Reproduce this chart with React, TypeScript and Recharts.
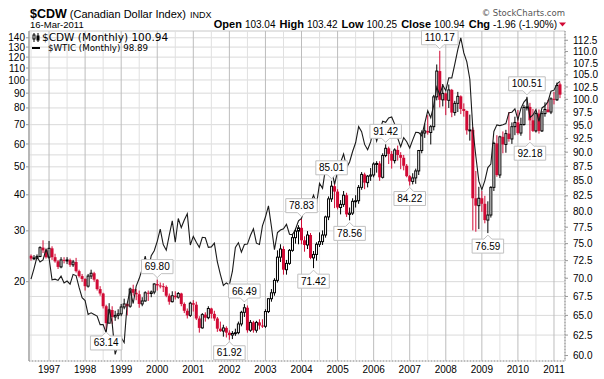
import React from 'react';
import { ComposedChart, XAxis, YAxis, Bar, Line, CartesianGrid, ReferenceDot } from 'recharts';

// ---------- categories ----------
function buildMonths(): string[] {
  const out: string[] = [];
  for (let y = 1996; y <= 2011; y++) {
    for (let m = 1; m <= 12; m++) {
      if (y === 1996 && m < 7) continue;
      if (y === 2011 && m > 3) continue;
      out.push(`${y}-${String(m).padStart(2, '0')}`);
    }
  }
  return out;
}
const months = buildMonths();

const yearTicks = ['1997-01','1998-01','1999-01','2000-01','2001-01','2002-01','2003-01','2004-01','2005-01','2006-01','2007-01','2008-01','2009-01','2010-01','2011-01'];
const halfYearTicks = ['1996-07','1997-07','1998-07','1999-07','2000-07','2001-07','2002-07','2003-07','2004-07','2005-07','2006-07','2007-07','2008-07','2009-07','2010-07'];

const leftTicks = [20, 30, 40, 50, 60, 70, 80, 90, 100, 110, 120, 130, 140];
const leftGridValues = [20, 30, 35, 40, 45, 50, 55, 60, 70, 80, 90, 100, 110, 120, 130, 140];
const rightTicks = [60, 62.5, 65, 67.5, 70, 72.5, 75, 77.5, 80, 82.5, 85, 87.5, 90, 92.5, 95, 97.5, 100, 102.5, 105, 107.5, 110, 112.5];
const rightGridValues = [62.5, 65, 67.5, 72.5, 75, 114.6];

// ---------- $CDW monthly OHLC (Jul 1996 .. Mar 2011) ----------
const cdwOpen = [
  73.2,72.8,72.9,73.1,74.4,74.0,
  73.0,74.3,73.0,72.4,71.6,72.6,72.5,72.6,71.9,72.3,71.0,70.3,
  69.9,68.9,70.3,70.7,69.8,68.5,67.9,66.2,64.0,65.7,64.8,65.0,
  65.2,66.1,66.5,66.2,68.5,68.0,67.8,66.5,66.9,68.0,67.9,68.1,
  69.2,69.0,68.9,68.8,67.6,66.8,67.6,67.4,67.9,66.5,65.6,65.0,
  66.6,66.4,64.6,63.4,65.1,64.7,65.9,65.2,64.6,63.3,63.0,63.4,
  62.8,62.5,62.7,62.8,63.9,65.4,66.0,63.1,64.1,63.1,64.1,63.7,
  63.6,65.5,67.2,68.0,69.7,73.0,74.2,71.2,72.1,74.0,75.9,76.9,
  77.4,75.5,74.8,76.3,72.9,73.4,74.9,75.3,76.3,79.1,82.0,84.1,
  83.2,80.6,81.1,82.6,79.5,79.7,81.6,81.7,83.9,86.1,84.7,85.8,
  86.0,87.9,88.0,85.6,89.4,90.7,89.7,88.5,90.4,89.5,89.0,87.6,
  85.8,84.9,85.5,86.7,90.3,93.5,93.9,93.6,94.7,100.5,105.8,99.9,
  101.2,99.8,101.9,97.4,99.2,100.6,98.1,97.7,94.0,94.1,82.1,80.9,
  82.1,81.2,78.6,79.4,83.9,91.6,86.0,92.8,91.4,93.4,92.4,94.7,
  95.5,93.5,95.1,98.4,98.5,95.9,93.9,97.2,93.9,97.2,98.0,97.5,
  100.1,99.9,103.04,
];
const cdwHigh = [
  73.4,73.3,73.4,74.6,75.5,74.2,
  75.4,74.6,73.5,72.6,73.0,73.0,73.0,72.8,72.6,72.9,71.2,70.6,
  70.0,70.6,71.2,70.9,69.9,68.9,68.0,66.4,66.6,66.2,65.6,65.8,
  66.5,67.2,66.6,68.7,69.1,68.5,68.3,67.4,68.2,68.3,68.3,69.3,
  69.8,69.4,69.3,69.0,67.9,68.2,68.2,68.1,68.0,66.7,65.9,66.8,
  67.0,66.8,64.9,65.3,65.4,66.2,66.0,65.6,64.8,64.2,63.8,63.6,
  63.1,63.0,63.3,64.2,65.6,66.49,66.3,64.4,64.3,64.3,64.5,64.5,
  65.8,67.3,68.5,70.0,74.0,74.9,74.6,72.6,74.2,76.5,77.3,77.8,
  78.83,76.1,76.9,76.6,73.9,75.2,76.7,77.0,79.3,82.4,85.01,84.9,
  83.6,81.8,83.3,83.0,80.6,82.1,82.6,84.3,86.5,86.4,86.0,87.2,
  88.2,88.4,88.4,89.8,91.42,91.0,90.2,90.7,91.2,90.0,89.5,87.9,
  86.0,86.3,87.1,90.4,94.0,95.3,96.9,95.0,100.9,107.2,110.17,103.1,
  101.4,103.0,102.1,99.7,101.5,100.8,99.2,97.8,97.0,94.6,86.7,84.0,
  83.3,82.5,81.6,84.1,91.9,93.1,93.0,93.8,94.1,97.5,95.5,96.6,
  97.9,96.4,98.9,100.51,99.3,98.1,97.6,98.0,97.7,99.4,99.9,100.4,
  101.5,103.4,103.42,
];
const cdwLow = [
  72.5,72.6,72.7,73.0,73.6,72.8,
  72.8,72.6,72.2,71.3,71.4,72.1,72.0,71.6,71.6,70.8,70.1,69.5,
  68.3,68.7,69.9,69.5,68.3,67.6,65.9,63.14,64.0,63.9,64.3,64.5,
  64.9,65.8,65.0,66.0,67.6,67.0,66.0,66.2,66.8,66.9,67.4,67.8,
  68.3,68.6,68.1,67.4,66.4,66.7,67.1,67.2,66.2,65.3,64.6,64.8,
  65.5,64.4,62.8,63.3,64.2,64.5,64.6,64.3,62.9,62.9,62.3,62.2,
  61.92,62.0,62.4,62.6,63.6,64.8,62.8,62.9,62.8,62.8,63.2,63.4,
  63.4,65.3,66.8,67.6,69.4,72.3,70.5,70.5,71.9,73.8,75.0,74.9,
  74.9,73.8,74.2,72.7,71.42,72.5,74.5,74.8,75.9,78.6,81.5,80.5,
  80.3,79.5,80.7,79.1,78.56,79.4,80.6,81.2,83.5,83.6,83.9,85.0,
  85.6,86.4,85.0,85.4,89.1,87.9,87.1,88.0,88.5,87.0,86.8,85.6,
  84.22,84.4,84.5,86.0,89.8,92.6,93.2,91.4,94.0,99.8,98.4,98.6,
  96.9,98.3,96.5,96.8,97.5,97.1,96.6,93.2,92.1,77.0,76.8,77.2,
  79.9,78.1,76.59,79.0,83.3,85.7,85.5,89.8,89.9,91.9,91.5,93.1,
  93.2,93.0,94.9,97.8,92.18,93.7,93.6,93.4,93.7,96.6,97.4,97.1,
  99.0,99.7,100.25,
];
const cdwClose = [
  72.8,72.9,73.1,74.4,74.0,73.0,
  74.3,73.0,72.4,71.6,72.6,72.5,72.6,71.9,72.3,71.0,70.3,69.9,
  68.9,70.3,70.7,69.8,68.5,67.9,66.2,64.0,65.7,64.8,65.0,65.2,
  66.1,66.5,66.2,68.5,68.0,67.8,66.5,66.9,68.0,67.9,68.1,69.2,
  69.0,68.9,68.8,67.6,66.8,67.6,67.4,67.9,66.5,65.6,65.0,66.6,
  66.4,64.6,63.4,65.1,64.7,65.9,65.2,64.6,63.3,63.0,63.4,62.8,
  62.5,62.7,62.8,63.9,65.4,66.0,63.1,64.1,63.1,64.1,63.7,63.6,
  65.5,67.2,68.0,69.7,73.0,74.2,71.2,72.1,74.0,75.9,76.9,77.4,
  75.5,74.8,76.3,72.9,73.4,74.9,75.3,76.3,79.1,82.0,84.1,83.2,
  80.6,81.1,82.6,79.5,79.7,81.6,81.7,83.9,86.1,84.7,85.8,86.0,
  87.9,88.0,85.6,89.4,90.7,89.7,88.5,90.4,89.5,89.0,87.6,85.8,
  84.9,85.5,86.7,90.3,93.5,93.9,93.6,94.7,100.5,105.8,99.9,101.2,
  99.8,101.9,97.4,99.2,100.6,98.1,97.7,94.0,94.1,82.1,80.9,82.1,
  81.2,78.6,79.4,83.9,91.6,86.0,92.8,91.4,93.4,92.4,94.7,95.5,
  93.5,95.1,98.4,98.5,95.9,93.9,97.2,93.9,97.2,98.0,97.5,100.1,
  99.9,102.8,100.94,
];

// ---------- $WTIC monthly close ----------
const wticClose = [
  20.4,22.2,24.4,23.4,23.8,25.9,
  24.2,20.3,20.4,20.2,20.9,19.8,20.1,19.6,21.2,21.0,19.1,17.6,
  17.2,15.4,15.6,15.4,15.2,14.2,14.2,13.3,16.1,14.4,11.2,12.1,
  12.8,12.3,16.8,18.7,16.8,19.3,20.5,22.1,24.5,21.8,24.6,25.6,
  27.6,30.4,26.9,25.7,29.0,32.5,27.4,33.1,30.8,32.7,34.4,26.8,
  28.7,27.4,26.3,28.5,28.4,26.3,26.4,27.2,23.4,21.2,19.4,19.8,
  19.5,21.7,26.3,27.3,25.3,26.9,27.0,28.9,30.5,27.2,26.9,31.2,
  33.5,36.6,31.0,25.8,29.6,30.2,30.5,31.6,29.2,29.1,30.4,32.5,
  33.1,36.2,35.8,37.4,39.9,37.1,43.8,42.1,49.6,51.8,49.1,43.5,
  48.2,51.8,55.4,49.7,52.0,56.5,60.6,68.9,66.2,59.8,57.3,61.0,
  67.9,61.4,66.6,71.9,71.3,73.9,74.4,70.3,62.9,58.7,63.1,61.1,
  58.1,62.0,65.9,65.7,64.0,70.7,78.2,74.0,81.7,94.5,88.7,96.0,
  91.8,101.8,101.6,113.5,127.4,140.0,124.1,115.5,100.6,67.8,54.4,44.6,
  41.7,44.8,49.7,51.1,66.3,69.9,69.5,70.0,70.6,77.0,77.3,79.4,
  72.9,79.7,83.8,86.2,74.0,75.6,79.0,71.9,80.0,81.4,84.1,91.4,
  92.2,97.0,98.89,
];

// ---------- annotations ----------
const calloutMonths = ['1998-08','2000-01','2002-01','2002-06','2004-01','2004-05','2004-11','2005-05','2006-05','2007-01','2007-11','2009-03','2010-04','2010-05'];
const calloutValues = [63.14, 69.80, 61.92, 66.49, 78.83, 71.42, 85.01, 78.56, 91.42, 84.22, 110.17, 76.59, 100.51, 92.18];
const calloutBelow = [true, false, true, false, false, true, false, true, false, true, false, true, false, true];

const data = months.map((m, i) => ({
  m,
  open: cdwOpen[i],
  high: cdwHigh[i],
  low: cdwLow[i],
  close: cdwClose[i],
  wtic: wticClose[i],
}));

const RED = '#d10a35';
const FONT = '"Liberation Sans", Arial, sans-serif';

function Candle(props: any) {
  const { x, y, width, height, payload } = props;
  if (!payload || x == null || y == null) return null;
  const top = Math.min(y, y + height);
  const h = Math.abs(height);
  const lh = Math.log(payload.high);
  const ll = Math.log(payload.low);
  const py = (v: number) => (lh === ll ? top : top + (h * (lh - Math.log(v))) / (lh - ll));
  const cx = x + width / 2;
  const up = payload.close >= payload.open;
  const bt = py(Math.max(payload.open, payload.close));
  const bb = py(Math.min(payload.open, payload.close));
  const bh = Math.max(bb - bt, 1);
  if (up) {
    return (
      <g>
        <line x1={cx} x2={cx} y1={top} y2={bt} stroke="#000" strokeWidth={1} />
        <line x1={cx} x2={cx} y1={bt + bh} y2={top + h} stroke="#000" strokeWidth={1} />
        <rect x={cx - 1} y={bt} width={2} height={bh} fill="#fff" stroke="#000" strokeWidth={1} />
      </g>
    );
  }
  return (
    <g>
      <line x1={cx} x2={cx} y1={top} y2={top + h} stroke={RED} strokeWidth={1} />
      <rect x={cx - 1.5} y={bt} width={3} height={bh} fill={RED} />
    </g>
  );
}

function Callout(props: any) {
  const { cx, cy, text, below } = props;
  if (cx == null || cy == null) return null;
  const w = text.length * 5.1 + 6;
  const x0 = cx - w / 2;
  const x1 = cx + w / 2;
  let d: string;
  let ty: number;
  if (!below) {
    const tip = cy - 2, base = cy - 6, tp = cy - 20;
    d = `M${x0},${tp} H${x1} V${base} H${cx + 4} L${cx},${tip} L${cx - 4},${base} H${x0} Z`;
    ty = cy - 9.5;
  } else {
    const tip = cy + 2, base = cy + 6, bt = cy + 20;
    d = `M${x0},${bt} H${x1} V${base} H${cx + 4} L${cx},${tip} L${cx - 4},${base} H${x0} Z`;
    ty = cy + 16.5;
  }
  return (
    <g>
      <path d={d} fill="#fff" stroke="#c0c0c0" strokeWidth={1} />
      <text x={cx} y={ty} textAnchor="middle" fontSize={10} fontFamily={FONT} fill="#000">{text}</text>
    </g>
  );
}

function YearTick(props: any) {
  const { x, y, payload } = props;
  if (x == null || y == null || !payload) return null;
  return (
    <text x={x} y={y} dy={7} textAnchor="middle" fontSize={10} fontFamily={FONT} fill="#000">
      {String(payload.value).slice(0, 4)}
    </text>
  );
}

export default function App() {
  return (
    <div style={{ position: 'absolute', left: 0, top: 0, width: 604, height: 379, background: '#fff' }}>
      <ComposedChart
        width={604}
        height={379}
        data={data}
        margin={{ top: 31, right: 0, bottom: 0, left: 0 }}
        barCategoryGap={0}
      >
        <XAxis
          dataKey="m"
          xAxisId="main"
          type="category"
          orientation="bottom"
          ticks={yearTicks}
          interval={0}
          padding={{ left: 0.5, right: 3.5 }}
          height={18}
          tickLine={false}
          tickSize={0}
          tickMargin={5}
          axisLine={{ stroke: '#999', strokeDasharray: '1 2' }}
          tick={<YearTick />}
        />
        <XAxis
          dataKey="m"
          xAxisId="half"
          type="category"
          orientation="top"
          ticks={halfYearTicks}
          interval={0}
          padding={{ left: 0.5, right: 3.5 }}
          height={0}
          hide
        />
        <YAxis
          yAxisId="left"
          orientation="left"
          width={29}
          scale="log"
          domain={[10.62, 147.8]}
          allowDataOverflow
          ticks={leftTicks}
          interval={0}
          tickSize={3}
          tickMargin={1}
          tickLine={{ stroke: '#999' }}
          axisLine={{ stroke: '#999' }}
          tick={{ fontSize: 10, fill: '#000', fontFamily: FONT }}
        />
        <YAxis
          yAxisId="leftGrid"
          orientation="left"
          scale="log"
          domain={[10.62, 147.8]}
          allowDataOverflow
          ticks={leftGridValues}
          interval={0}
          width={0}
          hide
        />
        <YAxis
          yAxisId="right"
          orientation="right"
          width={39}
          scale="log"
          domain={[59.35, 114.6]}
          allowDataOverflow
          ticks={rightTicks}
          interval={0}
          tickFormatter={(v: number) => v.toFixed(1)}
          tickSize={3}
          tickMargin={5}
          tickLine={{ stroke: '#999' }}
          axisLine={{ stroke: '#999', strokeDasharray: '1 2' }}
          tick={{ fontSize: 10, fill: '#000', fontFamily: FONT }}
        />
        <YAxis
          yAxisId="rightGrid"
          orientation="right"
          scale="log"
          domain={[59.35, 114.6]}
          allowDataOverflow
          ticks={rightGridValues}
          interval={0}
          width={0}
          hide
        />
        <CartesianGrid xAxisId="main" yAxisId="leftGrid" stroke="#dadada" vertical={false} />
        <CartesianGrid xAxisId="main" yAxisId="rightGrid" stroke="#dadada" vertical={false} />
        <CartesianGrid xAxisId="half" yAxisId="left" stroke="#e0e0e0" horizontal={false} />
        <CartesianGrid xAxisId="main" yAxisId="left" stroke="#bdbdbd" horizontal={false} />
        <Line
          xAxisId="main"
          yAxisId="left"
          dataKey="wtic"
          stroke="#1a1a1a"
          strokeWidth={1.1}
          dot={false}
          activeDot={false}
          isAnimationActive={false}
        />
        <Bar
          xAxisId="main"
          yAxisId="right"
          dataKey={(d: any) => [d.low, d.high]}
          barSize={3}
          shape={<Candle />}
          isAnimationActive={false}
        />
        {calloutMonths.map((m, i) => (
          <ReferenceDot
            key={m}
            xAxisId="main"
            yAxisId="right"
            x={m}
            y={calloutValues[i]}
            ifOverflow="visible"
            shape={(p: any) => <Callout {...p} text={calloutValues[i].toFixed(2)} below={calloutBelow[i]} />}
          />
        ))}
      </ComposedChart>
      <svg width={604} height={379} style={{ position: 'absolute', left: 0, top: 0, pointerEvents: 'none' }}>
        <text x={30} y={18} fontFamily={FONT} fill="#000">
          <tspan fontWeight="bold" fontSize={12.5}>$CDW</tspan>
          <tspan fontSize={11} dx={3}>(Canadian Dollar Index)</tspan>
          <tspan fontSize={9} dx={4}>INDX</tspan>
        </text>
        <text x={30} y={28} fontFamily={FONT} fontSize={9.5} fill="#000">16-Mar-2011</text>
        <text x={557} y={28} textAnchor="end" fontFamily={FONT} fill="#000">
          <tspan fontWeight="bold" fontSize={11}>Open</tspan>
          <tspan fontSize={10} dx={3}>103.04</tspan>
          <tspan fontWeight="bold" fontSize={11} dx={4}>High</tspan>
          <tspan fontSize={10} dx={3}>103.42</tspan>
          <tspan fontWeight="bold" fontSize={11} dx={4}>Low</tspan>
          <tspan fontSize={10} dx={3}>100.25</tspan>
          <tspan fontWeight="bold" fontSize={11} dx={4}>Close</tspan>
          <tspan fontSize={10} dx={3}>100.94</tspan>
          <tspan fontWeight="bold" fontSize={11} dx={4}>Chg</tspan>
          <tspan fontSize={10} dx={3}>-1.96 (-1.90%)</tspan>
        </text>
        <polygon points="559,22.5 566,22.5 562.5,26.5" fill={RED} />
        <text x={565} y={16} textAnchor="end" fontFamily='"DejaVu Sans", sans-serif' fontSize={8.5} fill="#555">© StockCharts.com</text>
        {/* legend */}
        <line x1={34} x2={34} y1={33} y2={42} stroke="#000" />
        <rect x={33} y={35} width={2} height={4} fill="#fff" stroke="#000" />
        <line x1={38} x2={38} y1={33} y2={42} stroke="#000" />
        <rect x={37} y={36} width={2} height={4} fill="#000" stroke="#000" />
        <text x={42} y={41} fontFamily='"DejaVu Sans", sans-serif' fontSize={10.5} fill="#000">$CDW (Monthly) 100.94</text>
        <line x1={32} x2={40} y1={48} y2={48} stroke="#000" strokeWidth={2} />
        <text x={48} y={51} fontFamily='"DejaVu Sans", sans-serif' fontSize={8.7} fill="#000">$WTIC (Monthly) 98.89</text>
      </svg>
    </div>
  );
}
